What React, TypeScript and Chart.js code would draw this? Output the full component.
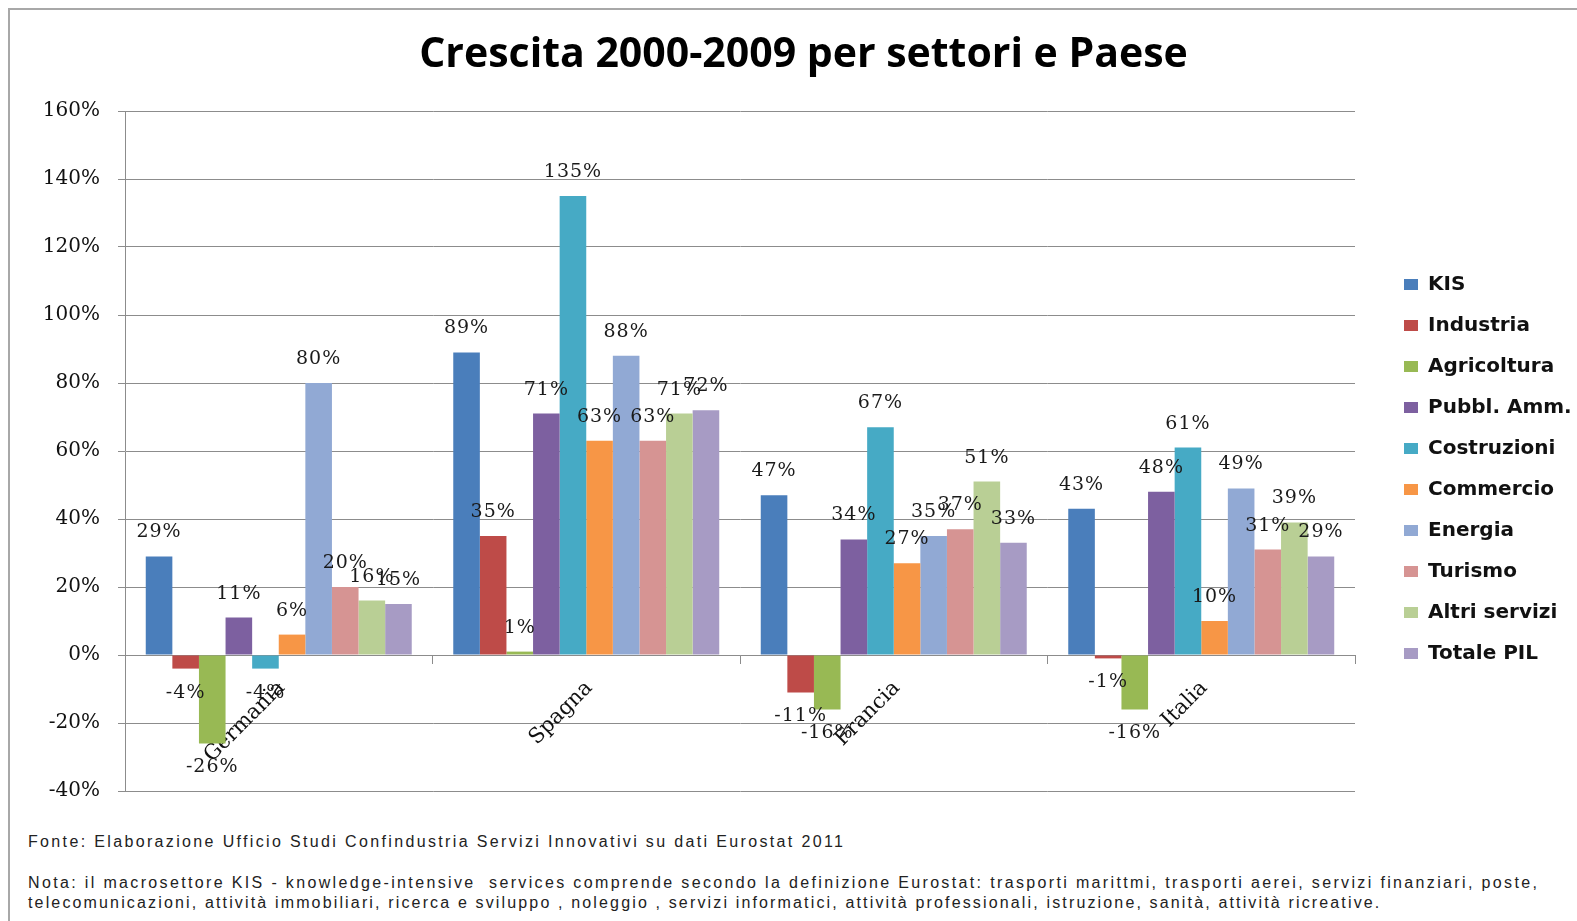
import React, { useEffect, useRef } from 'react';
import { Chart, registerables } from 'chart.js';

Chart.register(...registerables);

const categories = ['Germania', 'Spagna', 'Francia', 'Italia'];
const seriesNames = ['KIS', 'Industria', 'Agricoltura', 'Pubbl. Amm.', 'Costruzioni', 'Commercio', 'Energia', 'Turismo', 'Altri servizi', 'Totale PIL'];

const kis = [29, 89, 47, 43];
const industria = [-4, 35, -11, -1];
const agricoltura = [-26, 1, -16, -16];
const pubblAmm = [11, 71, 34, 48];
const costruzioni = [-4, 135, 67, 61];
const commercio = [6, 63, 27, 10];
const energia = [80, 88, 35, 49];
const turismo = [20, 63, 37, 31];
const altriServizi = [16, 71, 51, 39];
const totalePil = [15, 72, 33, 29];

const seriesValues = [kis, industria, agricoltura, pubblAmm, costruzioni, commercio, energia, turismo, altriServizi, totalePil];
const seriesColors = ['#4A7EBB', '#BE4B48', '#98B954', '#7D60A0', '#46AAC5', '#F79646', '#91A9D4', '#D69493', '#B9CF95', '#A79BC4'];

const yMin = -40;
const yMax = 160;
const yStep = 20;

const title = 'Crescita 2000-2009 per settori e Paese';
const fonte = 'Fonte: Elaborazione Ufficio Studi Confindustria Servizi Innovativi su dati Eurostat 2011';
const notaLine1 = 'Nota: il macrosettore KIS - knowledge-intensive  services comprende secondo la definizione Eurostat: trasporti marittmi, trasporti aerei, servizi finanziari, poste,';
const notaLine2 = 'telecomunicazioni, attività immobiliari, ricerca e sviluppo , noleggio , servizi informatici, attività professionali, istruzione, sanità, attività ricreative.';

const serifFont = 'DejaVu Serif';

const valueLabels = {
  id: 'valueLabels',
  afterDraw(chart: any) {
    const ctx = chart.ctx;
    ctx.save();
    ctx.font = `19px '${serifFont}'`;
    try { (ctx as any).letterSpacing = '1px'; } catch (e) {}
    ctx.fillStyle = '#1a1a1a';
    ctx.textAlign = 'center';
    ctx.textBaseline = 'middle';
    chart.data.datasets.forEach((ds: any, i: number) => {
      const meta = chart.getDatasetMeta(i);
      meta.data.forEach((bar: any, j: number) => {
        const v = ds.data[j];
        const y = v >= 0 ? bar.y - 24 : bar.y + 24;
        ctx.fillText(v + '%', bar.x, y);
      });
    });
    ctx.restore();
  },
};

export default function App() {
  const ref = useRef<HTMLCanvasElement>(null);

  useEffect(() => {
    if (!ref.current) return;
    const chart = new Chart(ref.current, {
      type: 'bar',
      data: {
        labels: categories,
        datasets: seriesNames.map((name, i) => ({
          label: name,
          data: seriesValues[i],
          backgroundColor: seriesColors[i],
          borderWidth: 0,
          categoryPercentage: 0.865,
          barPercentage: 1,
        })),
      },
      options: {
        responsive: false,
        animation: false,
        layout: { padding: { left: 30, right: 0, top: 0, bottom: 30 } },
        plugins: {
          title: {
            display: true,
            text: title,
            color: '#000',
            font: { family: 'Open Sans', size: 41, weight: 'bold' },
            padding: { top: 31, bottom: 30.8 },
          },
          legend: {
            position: 'right',
            fullSize: false,
            align: 'center',
            maxWidth: 194,
            title: { display: true, text: ' ', font: { size: 10 }, padding: { top: 24, bottom: 0 } },
            labels: {
              boxWidth: 14,
              boxHeight: 11,
              padding: 21,
              color: '#111',
              font: { family: 'DejaVu Sans', size: 20, weight: 'bold' },
            },
          },
          tooltip: { enabled: false },
        },
        scales: {
          x: {
            position: { y: 0 },
            z: 1,
            offset: true,
            grid: { display: true, offset: true, drawOnChartArea: false, drawTicks: true, tickLength: 8, color: '#8c8c8c' },
            border: { display: true, color: '#8c8c8c' },
            ticks: { minRotation: 45, maxRotation: 45, labelOffset: 3, color: '#111', font: { family: serifFont, size: 21 }, padding: 13 },
          },
          y: {
            min: yMin,
            max: yMax,
            ticks: { stepSize: yStep, callback: (v: any) => v + '%', padding: 18, color: '#111', font: { family: serifFont, size: 20 } },
            grid: { color: '#8c8c8c', tickLength: 7 },
            border: { color: '#8c8c8c' },
            afterFit: (s: any) => { s.width = 95; },
          },
          y2: {
            position: 'right',
            display: true,
            ticks: { display: false },
            grid: { display: false },
            border: { display: false },
            afterFit: (s: any) => { s.width = 28; },
          },
        },
      } as any,
      plugins: [valueLabels],
    });
    return () => chart.destroy();
  }, []);

  const noteStyle: React.CSSProperties = {
    position: 'absolute',
    left: 28,
    fontFamily: "'Liberation Sans', Arial, sans-serif",
    fontSize: 16,
    letterSpacing: '2.35px',
    lineHeight: '20px',
    color: '#222',
    whiteSpace: 'pre',
  };

  return (
    <div style={{ position: 'absolute', left: 0, top: 0, width: 1577, height: 921, overflow: 'hidden', background: '#fff' }}>
      <div style={{ position: 'absolute', left: 8, top: 8, width: 1600, height: 1000, borderTop: '2px solid #a8a8a8', borderLeft: '2px solid #a8a8a8' }} />
      <canvas ref={ref} width={1577} height={821} style={{ position: 'absolute', left: 0, top: 0, width: 1577, height: 821 }} />
      <div style={{ ...noteStyle, top: 832 }}>{fonte}</div>
      <div style={{ ...noteStyle, top: 873 }}>{notaLine1}</div>
      <div style={{ ...noteStyle, top: 893, letterSpacing: '2.15px' }}>{notaLine2}</div>
    </div>
  );
}
